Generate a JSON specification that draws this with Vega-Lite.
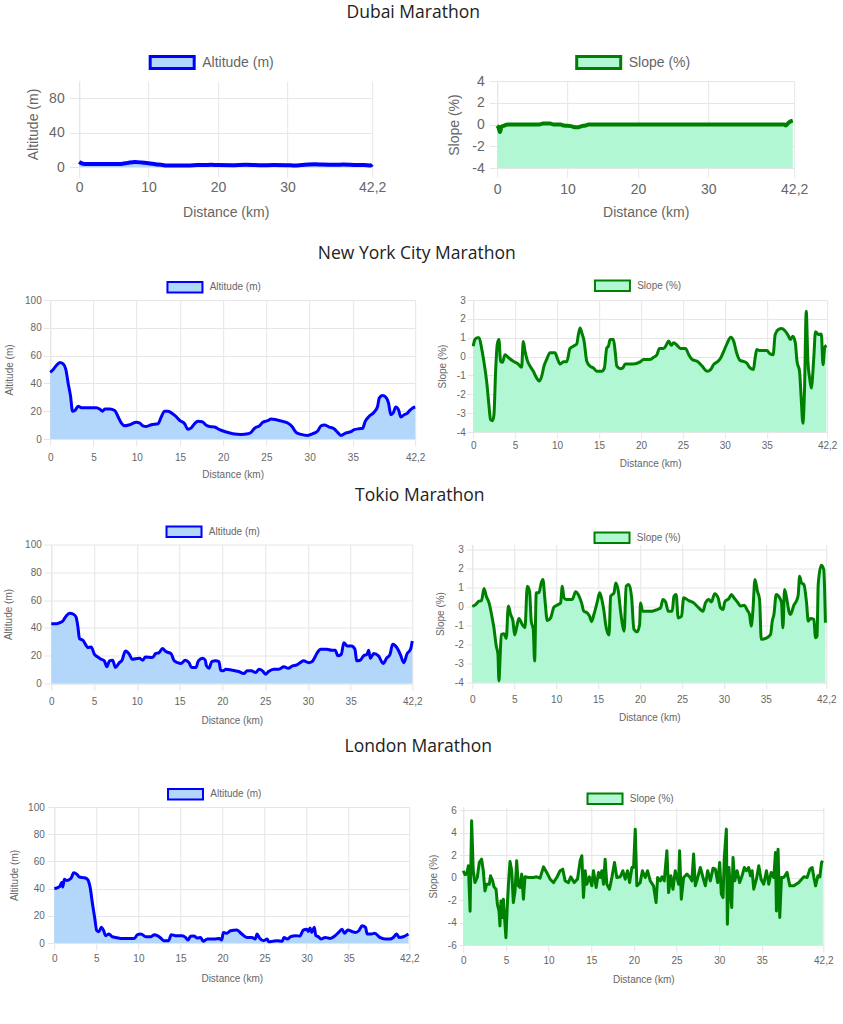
{
  "$schema": "https://vega.github.io/schema/vega-lite/v6.json",
  "padding": {"left": 3, "top": 3, "right": 5, "bottom": 5},
  "background": "white",
  "datasets": {
    "dubai_alt": [{"km":0,"alt":6},{"km":0.3,"alt":4.5},{"km":0.8,"alt":3.5},{"km":2,"alt":3.5},{"km":4,"alt":3.5},{"km":6,"alt":3.6},{"km":7,"alt":4.8},{"km":8,"alt":5.8},{"km":9,"alt":5.3},{"km":10,"alt":4.4},{"km":11,"alt":3.3},{"km":12,"alt":2.3},{"km":12.5,"alt":1.6},{"km":14,"alt":1.6},{"km":16,"alt":1.8},{"km":17,"alt":2.2},{"km":18,"alt":2.2},{"km":19,"alt":2.6},{"km":20,"alt":2.2},{"km":22,"alt":2.1},{"km":24,"alt":2.6},{"km":26,"alt":2.1},{"km":28,"alt":2.2},{"km":30,"alt":2.1},{"km":31,"alt":1.7},{"km":32,"alt":2.2},{"km":33,"alt":2.9},{"km":34,"alt":3.2},{"km":35,"alt":2.8},{"km":37,"alt":2.6},{"km":38,"alt":2.8},{"km":40,"alt":2.2},{"km":41,"alt":2.3},{"km":42,"alt":1.8},{"km":42.2,"alt":3}],
    "dubai_slope": [{"km":0,"slope":-0.1},{"km":0.2,"slope":-0.3},{"km":0.4,"slope":-0.7},{"km":0.6,"slope":-0.2},{"km":1,"slope":-0.1},{"km":1.5,"slope":0},{"km":6,"slope":0},{"km":6.5,"slope":0.1},{"km":7.5,"slope":0.1},{"km":8,"slope":0},{"km":9,"slope":0},{"km":9.5,"slope":-0.1},{"km":10.5,"slope":-0.15},{"km":11,"slope":-0.25},{"km":11.5,"slope":-0.25},{"km":12,"slope":-0.15},{"km":12.5,"slope":-0.1},{"km":13,"slope":0},{"km":20,"slope":0},{"km":30,"slope":0},{"km":40.8,"slope":0},{"km":41,"slope":-0.1},{"km":41.3,"slope":0.1},{"km":41.6,"slope":0.25},{"km":42,"slope":0.35}],
    "nyc_alt": [{"km":0,"alt":48},{"km":0.35,"alt":50},{"km":0.73,"alt":53},{"km":1.12,"alt":55},{"km":1.5,"alt":54},{"km":1.81,"alt":50},{"km":2.08,"alt":40},{"km":2.35,"alt":31},{"km":2.58,"alt":20},{"km":2.85,"alt":20.5},{"km":3.23,"alt":23.5},{"km":3.62,"alt":22.5},{"km":4.19,"alt":22.5},{"km":5.35,"alt":22.5},{"km":5.73,"alt":21.5},{"km":6.04,"alt":20},{"km":6.31,"alt":21.5},{"km":6.88,"alt":21.5},{"km":7.46,"alt":20.5},{"km":7.85,"alt":16},{"km":8.23,"alt":11.5},{"km":8.62,"alt":9.5},{"km":9.19,"alt":10.3},{"km":9.96,"alt":12},{"km":10.35,"alt":11.5},{"km":10.73,"alt":9.5},{"km":11.12,"alt":9},{"km":11.69,"alt":10.3},{"km":12.46,"alt":11},{"km":12.85,"alt":16},{"km":13.23,"alt":20},{"km":13.62,"alt":20},{"km":14.19,"alt":18},{"km":14.58,"alt":16},{"km":14.96,"alt":13.4},{"km":15.54,"alt":11},{"km":15.92,"alt":7},{"km":16.31,"alt":8},{"km":16.69,"alt":11},{"km":17.08,"alt":12.7},{"km":17.58,"alt":12.4},{"km":17.96,"alt":10.3},{"km":18.42,"alt":9},{"km":19.0,"alt":8.6},{"km":19.58,"alt":6.7},{"km":20.35,"alt":5},{"km":21.12,"alt":3.8},{"km":22.08,"alt":3.3},{"km":22.85,"alt":3.8},{"km":23.23,"alt":4.8},{"km":23.62,"alt":7.7},{"km":24.19,"alt":9.5},{"km":24.58,"alt":12},{"km":25.15,"alt":13.2},{"km":25.54,"alt":14.4},{"km":26.12,"alt":13.9},{"km":26.88,"alt":12.7},{"km":27.46,"alt":11.5},{"km":27.96,"alt":9},{"km":28.42,"alt":4.8},{"km":29.0,"alt":3.3},{"km":29.77,"alt":2.6},{"km":30.35,"alt":3.8},{"km":30.92,"alt":5.7},{"km":31.31,"alt":9.5},{"km":31.69,"alt":10},{"km":32.27,"alt":8.6},{"km":32.85,"alt":7.2},{"km":33.23,"alt":4.8},{"km":33.62,"alt":2.6},{"km":34.19,"alt":4.3},{"km":34.77,"alt":5.3},{"km":35.15,"alt":6.7},{"km":35.73,"alt":7.4},{"km":36.12,"alt":7.7},{"km":36.42,"alt":12.7},{"km":36.88,"alt":16.3},{"km":37.46,"alt":19.4},{"km":37.85,"alt":23.4},{"km":38.04,"alt":29.4},{"km":38.42,"alt":31.3},{"km":38.81,"alt":30},{"km":39.12,"alt":25.8},{"km":39.38,"alt":17.5},{"km":39.65,"alt":18.7},{"km":39.96,"alt":23},{"km":40.27,"alt":21},{"km":40.54,"alt":15.8},{"km":40.92,"alt":17.5},{"km":41.31,"alt":18.7},{"km":41.58,"alt":20.6},{"km":41.88,"alt":22.2},{"km":42.2,"alt":23}],
    "nyc_slope": [{"km":0,"slope":0.55},{"km":0.2,"slope":0.9},{"km":0.48,"slope":1.0},{"km":0.7,"slope":1.0},{"km":1.0,"slope":0.45},{"km":1.27,"slope":-0.25},{"km":1.6,"slope":-1.3},{"km":1.87,"slope":-2.55},{"km":2.07,"slope":-3.35},{"km":2.3,"slope":-3.4},{"km":2.47,"slope":-3.1},{"km":2.67,"slope":-0.8},{"km":2.87,"slope":0.65},{"km":3.07,"slope":0.9},{"km":3.26,"slope":-0.25},{"km":3.5,"slope":-0.3},{"km":3.78,"slope":0.1},{"km":4.18,"slope":-0.05},{"km":4.78,"slope":-0.25},{"km":5.37,"slope":-0.4},{"km":5.77,"slope":-0.57},{"km":5.97,"slope":0.8},{"km":6.17,"slope":0.3},{"km":6.45,"slope":-0.2},{"km":6.77,"slope":-0.5},{"km":7.17,"slope":-0.78},{"km":7.56,"slope":-1.13},{"km":7.88,"slope":-1.3},{"km":8.16,"slope":-1.05},{"km":8.44,"slope":-0.5},{"km":8.76,"slope":-0.15},{"km":9.16,"slope":0.2},{"km":9.75,"slope":0.2},{"km":10.03,"slope":-0.1},{"km":10.35,"slope":-0.4},{"km":10.75,"slope":-0.28},{"km":11.15,"slope":-0.28},{"km":11.54,"slope":0.43},{"km":11.94,"slope":0.55},{"km":12.34,"slope":0.67},{"km":12.54,"slope":1.17},{"km":12.74,"slope":1.52},{"km":12.94,"slope":1.26},{"km":13.22,"slope":0.82},{"km":13.54,"slope":-0.25},{"km":13.93,"slope":-0.51},{"km":14.33,"slope":-0.6},{"km":14.73,"slope":-0.78},{"km":15.33,"slope":-0.78},{"km":15.64,"slope":-0.6},{"km":15.92,"slope":0.46},{"km":16.12,"slope":0.55},{"km":16.32,"slope":0.9},{"km":16.72,"slope":0.9},{"km":16.92,"slope":0.28},{"km":17.12,"slope":-0.51},{"km":17.52,"slope":-0.64},{"km":17.83,"slope":-0.6},{"km":18.11,"slope":-0.4},{"km":19.1,"slope":-0.4},{"km":19.9,"slope":-0.28},{"km":20.3,"slope":-0.16},{"km":21.1,"slope":-0.16},{"km":21.5,"slope":-0.04},{"km":21.9,"slope":0.1},{"km":22.2,"slope":0.43},{"km":22.7,"slope":0.43},{"km":23.0,"slope":0.6},{"km":23.3,"slope":0.82},{"km":23.6,"slope":0.6},{"km":23.9,"slope":0.73},{"km":24.3,"slope":0.6},{"km":24.7,"slope":0.43},{"km":25.3,"slope":0.43},{"km":25.7,"slope":0.1},{"km":26.1,"slope":-0.16},{"km":26.7,"slope":-0.25},{"km":27.3,"slope":-0.51},{"km":27.9,"slope":-0.78},{"km":28.3,"slope":-0.69},{"km":28.7,"slope":-0.4},{"km":29.1,"slope":-0.28},{"km":29.5,"slope":-0.07},{"km":29.9,"slope":0.32},{"km":30.3,"slope":0.73},{"km":30.7,"slope":1.03},{"km":31.05,"slope":0.82},{"km":31.4,"slope":0.2},{"km":31.8,"slope":-0.2},{"km":32.2,"slope":-0.25},{"km":32.6,"slope":-0.34},{"km":33.0,"slope":-0.6},{"km":33.4,"slope":-0.69},{"km":33.6,"slope":-0.1},{"km":33.8,"slope":0.37},{"km":34.2,"slope":0.32},{"km":35.0,"slope":0.32},{"km":35.4,"slope":0.14},{"km":35.75,"slope":0.1},{"km":36.0,"slope":1.17},{"km":36.4,"slope":1.44},{"km":36.8,"slope":1.49},{"km":37.2,"slope":1.35},{"km":37.6,"slope":1.08},{"km":37.8,"slope":0.9},{"km":38.1,"slope":1.08},{"km":38.4,"slope":0.73},{"km":38.6,"slope":-0.25},{"km":38.9,"slope":-0.78},{"km":39.1,"slope":-2.2},{"km":39.3,"slope":-3.53},{"km":39.5,"slope":-1.67},{"km":39.7,"slope":2.41},{"km":39.9,"slope":-0.25},{"km":40.1,"slope":-1.13},{"km":40.3,"slope":-1.67},{"km":40.6,"slope":-0.07},{"km":40.8,"slope":1.31},{"km":41.2,"slope":1.17},{"km":41.5,"slope":1.2},{"km":41.7,"slope":-0.43},{"km":41.9,"slope":0.46},{"km":42.1,"slope":0.6}],
    "tokio_alt": [{"km":0,"alt":43},{"km":0.6,"alt":43},{"km":1.0,"alt":43.8},{"km":1.36,"alt":45},{"km":1.75,"alt":48.6},{"km":2.14,"alt":50.5},{"km":2.6,"alt":49.8},{"km":2.9,"alt":47.8},{"km":3.1,"alt":41.4},{"km":3.3,"alt":32.3},{"km":3.7,"alt":31.1},{"km":4.0,"alt":28.2},{"km":4.27,"alt":25.8},{"km":4.66,"alt":26.3},{"km":5.05,"alt":21},{"km":5.44,"alt":19.1},{"km":5.83,"alt":17.5},{"km":6.2,"alt":16.3},{"km":6.5,"alt":12},{"km":6.8,"alt":16.3},{"km":7.18,"alt":16.7},{"km":7.5,"alt":11.5},{"km":7.96,"alt":15},{"km":8.27,"alt":16.7},{"km":8.66,"alt":23.4},{"km":9.13,"alt":21},{"km":9.44,"alt":17.5},{"km":10.3,"alt":18.2},{"km":10.7,"alt":16.7},{"km":11.0,"alt":19.1},{"km":11.84,"alt":18.7},{"km":12.2,"alt":21.5},{"km":12.6,"alt":22.2},{"km":13.0,"alt":25.1},{"km":13.4,"alt":23},{"km":14.0,"alt":21.5},{"km":14.37,"alt":16.3},{"km":14.76,"alt":15},{"km":15.15,"alt":14.4},{"km":15.65,"alt":16.7},{"km":16.1,"alt":15},{"km":16.4,"alt":11.5},{"km":16.9,"alt":11.5},{"km":17.2,"alt":16.3},{"km":17.7,"alt":18.2},{"km":18.0,"alt":16.7},{"km":18.14,"alt":12.7},{"km":18.45,"alt":11},{"km":18.76,"alt":15.8},{"km":19.2,"alt":16.3},{"km":19.6,"alt":15.8},{"km":19.8,"alt":9.6},{"km":20.1,"alt":9.1},{"km":20.4,"alt":10.3},{"km":21.2,"alt":9.6},{"km":21.9,"alt":8.6},{"km":22.5,"alt":7.2},{"km":22.9,"alt":9.1},{"km":23.4,"alt":9.1},{"km":23.9,"alt":7.9},{"km":24.3,"alt":10.3},{"km":24.7,"alt":9.1},{"km":25.05,"alt":6.7},{"km":25.4,"alt":8.6},{"km":26,"alt":10.3},{"km":26.6,"alt":10.3},{"km":27.2,"alt":12},{"km":27.7,"alt":11},{"km":28.2,"alt":12.7},{"km":28.7,"alt":13.4},{"km":29.1,"alt":15},{"km":29.5,"alt":16.3},{"km":30.1,"alt":15},{"km":30.5,"alt":15.8},{"km":30.8,"alt":18.7},{"km":31.1,"alt":22.2},{"km":31.5,"alt":24.6},{"km":32.2,"alt":24.6},{"km":32.8,"alt":23.9},{"km":33.2,"alt":23.9},{"km":33.5,"alt":19.9},{"km":33.9,"alt":21},{"km":34.2,"alt":29.4},{"km":34.6,"alt":27},{"km":35.1,"alt":27},{"km":35.5,"alt":24.6},{"km":35.7,"alt":16.3},{"km":36.1,"alt":16.7},{"km":36.5,"alt":19.9},{"km":36.9,"alt":21},{"km":37.1,"alt":23.9},{"km":37.3,"alt":18.2},{"km":37.7,"alt":21.5},{"km":38.25,"alt":19.9},{"km":38.8,"alt":14.4},{"km":39.2,"alt":18.2},{"km":39.6,"alt":21},{"km":39.9,"alt":28.2},{"km":40.4,"alt":25.8},{"km":40.8,"alt":21},{"km":41.2,"alt":15},{"km":41.6,"alt":21.5},{"km":42.0,"alt":24.6},{"km":42.2,"alt":30.6}],
    "tokio_slope": [{"km":0,"slope":0},{"km":0.4,"slope":0.1},{"km":0.8,"slope":0.28},{"km":1.1,"slope":0.31},{"km":1.4,"slope":0.95},{"km":1.67,"slope":0.54},{"km":2.0,"slope":0.19},{"km":2.3,"slope":-0.42},{"km":2.58,"slope":-1.12},{"km":2.86,"slope":-2.08},{"km":3.06,"slope":-2.52},{"km":3.18,"slope":-3.92},{"km":3.3,"slope":-2.87},{"km":3.46,"slope":-1.47},{"km":3.77,"slope":-1.43},{"km":4.05,"slope":-1.68},{"km":4.3,"slope":0.02},{"km":4.57,"slope":-0.42},{"km":4.85,"slope":-0.77},{"km":5.05,"slope":-1.5},{"km":5.36,"slope":-0.95},{"km":5.56,"slope":-0.63},{"km":5.96,"slope":-0.95},{"km":6.28,"slope":-1.12},{"km":6.56,"slope":1.07},{"km":6.83,"slope":0.8},{"km":7.03,"slope":-0.77},{"km":7.27,"slope":-1.2},{"km":7.43,"slope":-2.87},{"km":7.63,"slope":0.72},{"km":7.95,"slope":0.72},{"km":8.22,"slope":1.24},{"km":8.42,"slope":1.42},{"km":8.66,"slope":0.37},{"km":8.94,"slope":-0.74},{"km":9.34,"slope":-0.6},{"km":9.73,"slope":-0.04},{"km":10.25,"slope":0.1},{"km":10.53,"slope":0.19},{"km":10.73,"slope":1.07},{"km":10.93,"slope":0.46},{"km":11.2,"slope":0.37},{"km":11.92,"slope":0.37},{"km":12.32,"slope":0.77},{"km":12.63,"slope":0.63},{"km":13.03,"slope":0.19},{"km":13.3,"slope":-0.25},{"km":13.7,"slope":-0.33},{"km":13.98,"slope":-0.51},{"km":14.22,"slope":-0.8},{"km":14.5,"slope":-0.42},{"km":14.9,"slope":0.24},{"km":15.18,"slope":0.72},{"km":15.4,"slope":0.46},{"km":15.7,"slope":-0.25},{"km":15.9,"slope":-0.95},{"km":16.3,"slope":-1.5},{"km":16.5,"slope":0.54},{"km":16.9,"slope":0.72},{"km":17.1,"slope":1.24},{"km":17.4,"slope":0.84},{"km":17.68,"slope":-0.25},{"km":17.9,"slope":-0.95},{"km":18.1,"slope":-1.3},{"km":18.35,"slope":1.07},{"km":18.67,"slope":1.16},{"km":19.0,"slope":0.46},{"km":19.27,"slope":-1.2},{"km":19.67,"slope":-1.33},{"km":19.95,"slope":-0.95},{"km":20.06,"slope":0.19},{"km":20.3,"slope":-0.25},{"km":21.45,"slope":-0.25},{"km":22.05,"slope":-0.16},{"km":22.45,"slope":-0.07},{"km":22.73,"slope":0.37},{"km":23.05,"slope":0.24},{"km":23.36,"slope":-0.25},{"km":23.84,"slope":-0.25},{"km":24.04,"slope":0.54},{"km":24.3,"slope":0.63},{"km":24.55,"slope":-0.6},{"km":24.95,"slope":-0.51},{"km":25.2,"slope":0.46},{"km":25.8,"slope":0.31},{"km":26.4,"slope":0.19},{"km":27.0,"slope":-0.07},{"km":27.5,"slope":-0.25},{"km":27.8,"slope":0.19},{"km":28.2,"slope":0.37},{"km":28.5,"slope":0.24},{"km":28.9,"slope":0.67},{"km":29.3,"slope":0.46},{"km":29.6,"slope":-0.07},{"km":29.9,"slope":-0.16},{"km":30.1,"slope":0.24},{"km":30.6,"slope":0.42},{"km":30.9,"slope":0.63},{"km":31.2,"slope":0.46},{"km":31.6,"slope":0.24},{"km":32.0,"slope":0.02},{"km":32.4,"slope":0.07},{"km":32.8,"slope":-0.21},{"km":33.05,"slope":-0.42},{"km":33.25,"slope":-1.03},{"km":33.45,"slope":-0.25},{"km":33.7,"slope":1.42},{"km":34.0,"slope":0.8},{"km":34.25,"slope":0.37},{"km":34.45,"slope":-1.73},{"km":34.96,"slope":-1.68},{"km":35.56,"slope":-1.47},{"km":35.76,"slope":-0.77},{"km":35.96,"slope":-0.42},{"km":36.23,"slope":0.63},{"km":36.63,"slope":0.46},{"km":36.87,"slope":0.19},{"km":37.03,"slope":-1.12},{"km":37.23,"slope":0.89},{"km":37.47,"slope":0.46},{"km":37.75,"slope":-0.25},{"km":37.94,"slope":-0.42},{"km":38.34,"slope":0.07},{"km":38.66,"slope":0.31},{"km":38.86,"slope":0.63},{"km":39.02,"slope":1.59},{"km":39.25,"slope":1.24},{"km":39.53,"slope":1.16},{"km":39.85,"slope":0.19},{"km":40.05,"slope":-0.77},{"km":40.33,"slope":-0.63},{"km":40.72,"slope":-0.68},{"km":40.92,"slope":-1.65},{"km":41.1,"slope":-1.56},{"km":41.24,"slope":1.16},{"km":41.6,"slope":2.17},{"km":41.9,"slope":1.94},{"km":42.1,"slope":-0.86}],
    "london_alt": [{"km":0,"alt":40},{"km":0.4,"alt":40.7},{"km":0.7,"alt":42},{"km":0.87,"alt":44.4},{"km":1.0,"alt":41.2},{"km":1.2,"alt":46.8},{"km":1.5,"alt":46},{"km":2.0,"alt":47.6},{"km":2.3,"alt":51.7},{"km":2.7,"alt":50.5},{"km":3.0,"alt":48.5},{"km":3.56,"alt":48},{"km":3.95,"alt":46.8},{"km":4.27,"alt":40.7},{"km":4.55,"alt":28.5},{"km":4.8,"alt":18.8},{"km":5.06,"alt":9},{"km":5.3,"alt":8.3},{"km":5.6,"alt":11.5},{"km":5.85,"alt":9.5},{"km":6.1,"alt":5.4},{"km":6.5,"alt":6.6},{"km":6.9,"alt":4.6},{"km":7.3,"alt":4.1},{"km":7.9,"alt":3.4},{"km":8.7,"alt":3.4},{"km":9.5,"alt":3.4},{"km":9.9,"alt":6.1},{"km":10.3,"alt":6.6},{"km":10.9,"alt":4.6},{"km":11.5,"alt":4.6},{"km":11.9,"alt":6.1},{"km":12.25,"alt":5.4},{"km":12.65,"alt":3.7},{"km":13.0,"alt":1.7},{"km":13.6,"alt":1.7},{"km":13.9,"alt":6.1},{"km":14.4,"alt":5.4},{"km":15.2,"alt":5.4},{"km":15.6,"alt":4.1},{"km":15.9,"alt":2.2},{"km":16.2,"alt":4.9},{"km":16.6,"alt":5.1},{"km":17.0,"alt":3.7},{"km":17.4,"alt":4.1},{"km":17.7,"alt":1.2},{"km":18.2,"alt":2.9},{"km":19.0,"alt":2.9},{"km":19.6,"alt":3.4},{"km":19.9,"alt":2.2},{"km":20.1,"alt":7.8},{"km":20.5,"alt":7.1},{"km":20.95,"alt":9},{"km":21.7,"alt":9.5},{"km":22.3,"alt":6.6},{"km":22.9,"alt":4.1},{"km":23.5,"alt":4.1},{"km":23.9,"alt":2.9},{"km":24.1,"alt":6.6},{"km":24.4,"alt":3.7},{"km":24.9,"alt":1.7},{"km":25.3,"alt":2.9},{"km":25.5,"alt":1},{"km":25.9,"alt":1.2},{"km":26.5,"alt":1.7},{"km":27.1,"alt":1.2},{"km":27.3,"alt":4.1},{"km":27.7,"alt":2.9},{"km":28.1,"alt":4.6},{"km":28.7,"alt":5.4},{"km":29.2,"alt":5.1},{"km":29.6,"alt":9.5},{"km":30.0,"alt":10.2},{"km":30.2,"alt":8.5},{"km":30.4,"alt":11},{"km":30.6,"alt":7.8},{"km":30.9,"alt":11.5},{"km":31.1,"alt":5.4},{"km":31.4,"alt":4.6},{"km":31.7,"alt":2.9},{"km":32.2,"alt":4.1},{"km":32.8,"alt":3.4},{"km":33.4,"alt":5.4},{"km":33.8,"alt":7.8},{"km":34.2,"alt":10.2},{"km":34.5,"alt":7.1},{"km":34.9,"alt":9.5},{"km":35.4,"alt":8.5},{"km":35.8,"alt":7.8},{"km":36.2,"alt":9},{"km":36.6,"alt":12.7},{"km":37.0,"alt":11.5},{"km":37.2,"alt":6.6},{"km":37.7,"alt":6.6},{"km":38.1,"alt":7.1},{"km":38.7,"alt":4.1},{"km":39.3,"alt":2.9},{"km":39.9,"alt":2.9},{"km":40.3,"alt":4.1},{"km":40.7,"alt":6.6},{"km":41.0,"alt":4.1},{"km":41.5,"alt":4.6},{"km":42.1,"alt":6.6}],
    "london_slope": [{"km":0,"slope":0.6},{"km":0.2,"slope":0.25},{"km":0.4,"slope":0.3},{"km":0.6,"slope":1.05},{"km":0.8,"slope":-3.0},{"km":0.98,"slope":5.05},{"km":1.17,"slope":0.6},{"km":1.37,"slope":-0.45},{"km":1.64,"slope":0},{"km":1.88,"slope":1.34},{"km":2.15,"slope":1.63},{"km":2.35,"slope":0.6},{"km":2.54,"slope":-1.2},{"km":2.74,"slope":-0.6},{"km":3.05,"slope":-0.6},{"km":3.2,"slope":0.15},{"km":3.44,"slope":-0.3},{"km":3.6,"slope":-0.83},{"km":3.84,"slope":-1.04},{"km":4.0,"slope":-2.38},{"km":4.19,"slope":-2.97},{"km":4.3,"slope":-4.3},{"km":4.42,"slope":-2.08},{"km":4.58,"slope":-3.56},{"km":4.7,"slope":-1.93},{"km":4.81,"slope":-3.27},{"km":5.0,"slope":-5.35},{"km":5.17,"slope":-2.38},{"km":5.32,"slope":-0.3},{"km":5.48,"slope":1.43},{"km":5.68,"slope":0.6},{"km":5.87,"slope":-2.23},{"km":6.07,"slope":-1.2},{"km":6.26,"slope":1.48},{"km":6.46,"slope":-0.74},{"km":6.65,"slope":-0.89},{"km":6.85,"slope":0.3},{"km":7.05,"slope":-1.93},{"km":7.24,"slope":0.06},{"km":7.63,"slope":0},{"km":8.22,"slope":0},{"km":8.6,"slope":0.06},{"km":9.0,"slope":-0.06},{"km":9.4,"slope":0.95},{"km":9.78,"slope":0.45},{"km":10.18,"slope":-0.15},{"km":10.57,"slope":-0.45},{"km":10.96,"slope":0},{"km":11.35,"slope":0.6},{"km":11.66,"slope":0.74},{"km":11.94,"slope":-0.3},{"km":12.33,"slope":-0.45},{"km":12.6,"slope":0.06},{"km":12.99,"slope":-0.45},{"km":13.39,"slope":-0.15},{"km":13.7,"slope":1.48},{"km":13.9,"slope":1.93},{"km":14.09,"slope":-1.78},{"km":14.29,"slope":0.6},{"km":14.48,"slope":-0.6},{"km":14.79,"slope":0.06},{"km":15.07,"slope":-0.74},{"km":15.26,"slope":0.6},{"km":15.58,"slope":-0.89},{"km":15.85,"slope":0.45},{"km":16.05,"slope":0},{"km":16.24,"slope":0.6},{"km":16.44,"slope":-0.6},{"km":16.63,"slope":1.63},{"km":16.83,"slope":-0.6},{"km":17.14,"slope":-1.04},{"km":17.42,"slope":0},{"km":17.73,"slope":1.34},{"km":18.0,"slope":0},{"km":18.4,"slope":0.06},{"km":18.7,"slope":0.6},{"km":18.98,"slope":-0.15},{"km":19.26,"slope":0.6},{"km":19.5,"slope":-0.45},{"km":19.77,"slope":0.89},{"km":19.96,"slope":0.89},{"km":20.16,"slope":4.3},{"km":20.35,"slope":-0.74},{"km":20.74,"slope":-0.45},{"km":21.0,"slope":0.6},{"km":21.33,"slope":0},{"km":21.6,"slope":0.6},{"km":21.92,"slope":-0.3},{"km":22.3,"slope":-0.74},{"km":22.6,"slope":-2.23},{"km":22.78,"slope":0},{"km":23.1,"slope":-0.3},{"km":23.29,"slope":0.06},{"km":23.56,"slope":-0.3},{"km":23.87,"slope":2.38},{"km":24.07,"slope":-1.34},{"km":24.34,"slope":0.15},{"km":24.58,"slope":-1.04},{"km":24.85,"slope":0.6},{"km":25.24,"slope":-0.6},{"km":25.36,"slope":2.38},{"km":25.56,"slope":-1.93},{"km":25.83,"slope":0},{"km":26.22,"slope":0.3},{"km":26.6,"slope":0},{"km":26.8,"slope":-0.3},{"km":27.0,"slope":2.08},{"km":27.2,"slope":-0.74},{"km":27.48,"slope":0},{"km":27.79,"slope":0.89},{"km":28.1,"slope":0},{"km":28.38,"slope":-0.74},{"km":28.65,"slope":0.6},{"km":28.96,"slope":-0.3},{"km":29.28,"slope":0.83},{"km":29.55,"slope":0.74},{"km":29.82,"slope":-0.45},{"km":30.06,"slope":1.34},{"km":30.25,"slope":-1.48},{"km":30.45,"slope":-1.78},{"km":30.6,"slope":1.78},{"km":30.84,"slope":4.3},{"km":30.96,"slope":-4.16},{"km":31.15,"slope":0.89},{"km":31.3,"slope":-1.2},{"km":31.47,"slope":-2.67},{"km":31.62,"slope":1.78},{"km":31.82,"slope":-0.3},{"km":32.1,"slope":0.6},{"km":32.4,"slope":-0.45},{"km":32.68,"slope":0.15},{"km":32.95,"slope":0.89},{"km":33.19,"slope":0.6},{"km":33.46,"slope":0.89},{"km":33.66,"slope":0.15},{"km":33.86,"slope":0.6},{"km":34.05,"slope":-1.04},{"km":34.36,"slope":-0.15},{"km":34.64,"slope":1.04},{"km":34.91,"slope":-0.15},{"km":35.22,"slope":-0.6},{"km":35.54,"slope":0.6},{"km":35.81,"slope":-0.6},{"km":36.09,"slope":0.45},{"km":36.4,"slope":0},{"km":36.6,"slope":2.23},{"km":36.71,"slope":-2.97},{"km":36.9,"slope":2.52},{"km":37.1,"slope":-3.56},{"km":37.3,"slope":0},{"km":37.57,"slope":0},{"km":37.96,"slope":0.45},{"km":38.28,"slope":-0.74},{"km":38.75,"slope":-0.74},{"km":39.33,"slope":-0.45},{"km":39.92,"slope":0.06},{"km":40.31,"slope":0},{"km":40.63,"slope":0.74},{"km":40.9,"slope":0.89},{"km":41.1,"slope":0},{"km":41.3,"slope":-0.74},{"km":41.57,"slope":0.15},{"km":41.8,"slope":0.06},{"km":42.0,"slope":1.34},{"km":42.15,"slope":1.48}]
  },
  "center": true,
  "spacing": 26,
  "resolve": {"scale": {"fill": "independent"}, "legend": {"fill": "independent"}},
  "vconcat": [
    {
      "title": {"text": "Dubai Marathon", "offset": 29, "dx": -4},
      "spacing": 61,
      "resolve": {"scale": {"fill": "independent"}, "legend": {"fill": "independent"}},
      "hconcat": [
        {
          "width": 293, "height": 86,
          "data": {"name": "dubai_alt"},
          "encoding": {
            "x": {"field": "km", "type": "quantitative", "scale": {"domain": [0, 42.2], "nice": false, "zero": false}, "axis": {"title": "Distance (km)", "values": [0, 10, 20, 30, 42.2], "labelExpr": "replace('' + datum.value, '.', ',')", "labelFontSize": 14, "titleFontSize": 14, "tickSize": 10, "labelPadding": 3, "titlePadding": 11}},
            "y": {"field": "alt", "type": "quantitative", "scale": {"domain": [0, 100], "nice": false}, "axis": {"title": "Altitude (m)", "values": [0, 40, 80], "labelExpr": "'' + datum.value", "labelFontSize": 14, "titleFontSize": 14, "tickSize": 10, "labelPadding": 5, "titlePadding": 8}}
          },
          "layer": [
            {"mark": {"type": "area", "interpolate": "monotone", "opacity": 1}, "encoding": {"y2": {"datum": 0}, "fill": {"datum": "Altitude (m)", "scale": {"range": ["#b3d6fb"]}, "legend": {"orient": "none", "legendX": 80.5, "legendY": -31, "title": null, "symbolType": "M-2,-0.545H2V0.545H-2Z", "symbolSize": 484, "symbolStrokeColor": "#0000ff", "symbolStrokeWidth": 3, "labelOffset": 17.5, "labelFontSize": 14}}}},
            {"mark": {"type": "line", "interpolate": "monotone", "color": "#0000ff", "strokeWidth": 4}, "encoding": {}}
          ]
        },
        {
          "width": 297, "height": 87,
          "data": {"name": "dubai_slope"},
          "encoding": {
            "x": {"field": "km", "type": "quantitative", "scale": {"domain": [0, 42.2], "nice": false, "zero": false}, "axis": {"title": "Distance (km)", "values": [0, 10, 20, 30, 42.2], "labelExpr": "replace('' + datum.value, '.', ',')", "labelFontSize": 14, "titleFontSize": 14, "tickSize": 9, "labelPadding": 5, "titlePadding": 9}},
            "y": {"field": "slope", "type": "quantitative", "scale": {"domain": [-4, 4], "nice": false}, "axis": {"title": "Slope (%)", "values": [-4, -2, 0, 2, 4], "labelExpr": "'' + datum.value", "labelFontSize": 14, "titleFontSize": 14, "tickSize": 8, "labelPadding": 5, "titlePadding": 10}}
          },
          "layer": [
            {"mark": {"type": "area", "interpolate": "monotone", "opacity": 1}, "encoding": {"y2": {"datum": -4}, "fill": {"datum": "Slope (%)", "scale": {"range": ["#b1f7d3"]}, "legend": {"orient": "none", "legendX": 89, "legendY": -31, "title": null, "symbolType": "M-2,-0.545H2V0.545H-2Z", "symbolSize": 484, "symbolStrokeColor": "#008000", "symbolStrokeWidth": 3, "labelOffset": 17.5, "labelFontSize": 14}}}},
            {"mark": {"type": "line", "interpolate": "monotone", "color": "#008000", "strokeWidth": 4}, "encoding": {}}
          ]
        }
      ]
    },
    {
      "center": true,
      "spacing": 7.5,
      "resolve": {"scale": {"fill": "independent"}, "legend": {"fill": "independent"}},
      "vconcat": [
        {
          "title": {"text": "New York City Marathon", "offset": 13, "dx": -4},
          "spacing": 12,
          "resolve": {"scale": {"fill": "independent"}, "legend": {"fill": "independent"}},
          "hconcat": [
            {
              "width": 365, "height": 139,
              "data": {"name": "nyc_alt"},
              "encoding": {
                "x": {"field": "km", "type": "quantitative", "scale": {"domain": [0, 42.2], "nice": false, "zero": false}, "axis": {"title": "Distance (km)", "values": [0, 5, 10, 15, 20, 25, 30, 35, 42.2], "labelExpr": "replace('' + datum.value, '.', ',')", "tickSize": 7, "labelPadding": 6, "titlePadding": 7}},
                "y": {"field": "alt", "type": "quantitative", "scale": {"domain": [0, 100], "nice": false}, "axis": {"title": "Altitude (m)", "values": [0, 20, 40, 60, 80, 100], "labelExpr": "'' + datum.value", "tickSize": 7, "labelPadding": 2, "titlePadding": 10}}
              },
              "layer": [
                {"mark": {"type": "area", "interpolate": "monotone", "opacity": 1}, "encoding": {"y2": {"datum": 0}, "fill": {"datum": "Altitude (m)", "scale": {"range": ["#b3d6fb"]}, "legend": {"orient": "none", "legendX": 124.75, "legendY": -22.75, "title": null, "symbolType": "M-2,-0.6H2V0.6H-2Z", "symbolSize": 306.25, "symbolStrokeColor": "#0000ff", "symbolStrokeWidth": 2, "labelOffset": 14.75}}}},
                {"mark": {"type": "line", "interpolate": "monotone", "color": "#0000ff", "strokeWidth": 3}, "encoding": {}}
              ]
            },
            {
              "width": 354, "height": 132,
              "data": {"name": "nyc_slope"},
              "encoding": {
                "x": {"field": "km", "type": "quantitative", "scale": {"domain": [0, 42.2], "nice": false, "zero": false}, "axis": {"title": "Distance (km)", "values": [0, 5, 10, 15, 20, 25, 30, 35, 42.2], "labelExpr": "replace('' + datum.value, '.', ',')", "tickSize": 6, "labelPadding": 2, "titlePadding": 8}},
                "y": {"field": "slope", "type": "quantitative", "scale": {"domain": [-4, 3], "nice": false}, "axis": {"title": "Slope (%)", "values": [-4, -3, -2, -1, 0, 1, 2, 3], "labelExpr": "'' + datum.value", "tickSize": 6, "labelPadding": 2, "titlePadding": 9}}
              },
              "layer": [
                {"mark": {"type": "area", "interpolate": "monotone", "opacity": 1}, "encoding": {"y2": {"datum": -4}, "fill": {"datum": "Slope (%)", "scale": {"range": ["#b1f7d3"]}, "legend": {"orient": "none", "legendX": 129.25, "legendY": -24.25, "title": null, "symbolType": "M-2,-0.6H2V0.6H-2Z", "symbolSize": 306.25, "symbolStrokeColor": "#008000", "symbolStrokeWidth": 2, "labelOffset": 14.75}}}},
                {"mark": {"type": "line", "interpolate": "monotone", "color": "#008000", "strokeWidth": 3}, "encoding": {}}
              ]
            }
          ]
        },
        {
          "center": true,
          "spacing": 11.5,
          "resolve": {"scale": {"fill": "independent"}, "legend": {"fill": "independent"}},
          "vconcat": [
            {
              "title": {"text": "Tokio Marathon", "offset": 17},
              "spacing": 13,
              "resolve": {"scale": {"fill": "independent"}, "legend": {"fill": "independent"}},
              "hconcat": [
                {
                  "width": 361, "height": 139,
                  "data": {"name": "tokio_alt"},
                  "encoding": {
                    "x": {"field": "km", "type": "quantitative", "scale": {"domain": [0, 42.2], "nice": false, "zero": false}, "axis": {"title": "Distance (km)", "values": [0, 5, 10, 15, 20, 25, 30, 35, 42.2], "labelExpr": "replace('' + datum.value, '.', ',')", "tickSize": 7, "labelPadding": 6, "titlePadding": 9}},
                    "y": {"field": "alt", "type": "quantitative", "scale": {"domain": [0, 100], "nice": false}, "axis": {"title": "Altitude (m)", "values": [0, 20, 40, 60, 80, 100], "labelExpr": "'' + datum.value", "tickSize": 7, "labelPadding": 3, "titlePadding": 11}}
                  },
                  "layer": [
                    {"mark": {"type": "area", "interpolate": "monotone", "opacity": 1}, "encoding": {"y2": {"datum": 0}, "fill": {"datum": "Altitude (m)", "scale": {"range": ["#b3d6fb"]}, "legend": {"orient": "none", "legendX": 122.75, "legendY": -22.75, "title": null, "symbolType": "M-2,-0.6H2V0.6H-2Z", "symbolSize": 306.25, "symbolStrokeColor": "#0000ff", "symbolStrokeWidth": 2, "labelOffset": 14.75}}}},
                    {"mark": {"type": "line", "interpolate": "monotone", "color": "#0000ff", "strokeWidth": 3}, "encoding": {}}
                  ]
                },
                {
                  "width": 354, "height": 138,
                  "data": {"name": "tokio_slope"},
                  "encoding": {
                    "x": {"field": "km", "type": "quantitative", "scale": {"domain": [0, 42.2], "nice": false, "zero": false}, "axis": {"title": "Distance (km)", "values": [0, 5, 10, 15, 20, 25, 30, 35, 42.2], "labelExpr": "replace('' + datum.value, '.', ',')", "tickSize": 6, "labelPadding": 6, "titlePadding": 8}},
                    "y": {"field": "slope", "type": "quantitative", "scale": {"domain": [-4, 3.263], "nice": false}, "axis": {"title": "Slope (%)", "values": [-4, -3, -2, -1, 0, 1, 2, 3], "labelExpr": "'' + datum.value", "tickSize": 6, "labelPadding": 3, "titlePadding": 9}}
                  },
                  "layer": [
                    {"mark": {"type": "area", "interpolate": "monotone", "opacity": 1}, "encoding": {"y2": {"datum": -4}, "fill": {"datum": "Slope (%)", "scale": {"range": ["#b1f7d3"]}, "legend": {"orient": "none", "legendX": 129.75, "legendY": -16.75, "title": null, "symbolType": "M-2,-0.6H2V0.6H-2Z", "symbolSize": 306.25, "symbolStrokeColor": "#008000", "symbolStrokeWidth": 2, "labelOffset": 14.75}}}},
                    {"mark": {"type": "line", "interpolate": "monotone", "color": "#008000", "strokeWidth": 3}, "encoding": {}}
                  ]
                }
              ]
            },
            {
              "title": {"text": "London Marathon", "offset": 29, "dx": -3},
              "spacing": 9,
              "resolve": {"scale": {"fill": "independent"}, "legend": {"fill": "independent"}},
              "hconcat": [
                {
                  "width": 355, "height": 136,
                  "data": {"name": "london_alt"},
                  "encoding": {
                    "x": {"field": "km", "type": "quantitative", "scale": {"domain": [0, 42.2], "nice": false, "zero": false}, "axis": {"title": "Distance (km)", "values": [0, 5, 10, 15, 20, 25, 30, 35, 42.2], "labelExpr": "replace('' + datum.value, '.', ',')", "tickSize": 7, "labelPadding": 3, "titlePadding": 10}},
                    "y": {"field": "alt", "type": "quantitative", "scale": {"domain": [0, 100], "nice": false}, "axis": {"title": "Altitude (m)", "values": [0, 20, 40, 60, 80, 100], "labelExpr": "'' + datum.value", "tickSize": 7, "labelPadding": 3, "titlePadding": 8}}
                  },
                  "layer": [
                    {"mark": {"type": "area", "interpolate": "monotone", "opacity": 1}, "encoding": {"y2": {"datum": 0}, "fill": {"datum": "Altitude (m)", "scale": {"range": ["#b3d6fb"]}, "legend": {"orient": "none", "legendX": 121.25, "legendY": -22.75, "title": null, "symbolType": "M-2,-0.6H2V0.6H-2Z", "symbolSize": 306.25, "symbolStrokeColor": "#0000ff", "symbolStrokeWidth": 2, "labelOffset": 14.75}}}},
                    {"mark": {"type": "line", "interpolate": "monotone", "color": "#0000ff", "strokeWidth": 3}, "encoding": {}}
                  ]
                },
                {
                  "width": 360, "height": 138,
                  "data": {"name": "london_slope"},
                  "encoding": {
                    "x": {"field": "km", "type": "quantitative", "scale": {"domain": [0, 42.2], "nice": false, "zero": false}, "axis": {"title": "Distance (km)", "values": [0, 5, 10, 15, 20, 25, 30, 35, 42.2], "labelExpr": "replace('' + datum.value, '.', ',')", "tickSize": 7, "labelPadding": 3, "titlePadding": 9}},
                    "y": {"field": "slope", "type": "quantitative", "scale": {"domain": [-6, 6.267], "nice": false}, "axis": {"title": "Slope (%)", "values": [-6, -4, -2, 0, 2, 4, 6], "labelExpr": "'' + datum.value", "tickSize": 4, "labelPadding": 3, "titlePadding": 9}}
                  },
                  "layer": [
                    {"mark": {"type": "area", "opacity": 1}, "encoding": {"y2": {"datum": -6}, "fill": {"datum": "Slope (%)", "scale": {"range": ["#b1f7d3"]}, "legend": {"orient": "none", "legendX": 131.75, "legendY": -18.25, "title": null, "symbolType": "M-2,-0.6H2V0.6H-2Z", "symbolSize": 306.25, "symbolStrokeColor": "#008000", "symbolStrokeWidth": 2, "labelOffset": 14.75}}}},
                    {"mark": {"type": "line", "color": "#008000", "strokeWidth": 3, "strokeJoin": "round"}, "encoding": {}}
                  ]
                }
              ]
            }
          ]
        }
      ]
    }
  ],
  "config": {
    "view": {"stroke": null},
    "axis": {"gridColor": "#e6e6e6", "domainColor": "#e6e6e6", "tickColor": "#e6e6e6", "labelColor": "#666", "titleColor": "#666", "labelFont": "Liberation Sans", "titleFont": "Liberation Sans", "titleFontWeight": "normal", "labelFontSize": 10, "titleFontSize": 10, "labelFlush": false, "labelOverlap": false, "grid": true},
    "legend": {"padding": 0, "labelFont": "Liberation Sans", "labelColor": "#666", "labelFontSize": 10},
    "title": {"font": "Open Sans", "fontSize": 17.5, "fontWeight": "normal", "color": "#222", "anchor": "middle"}
  }
}
